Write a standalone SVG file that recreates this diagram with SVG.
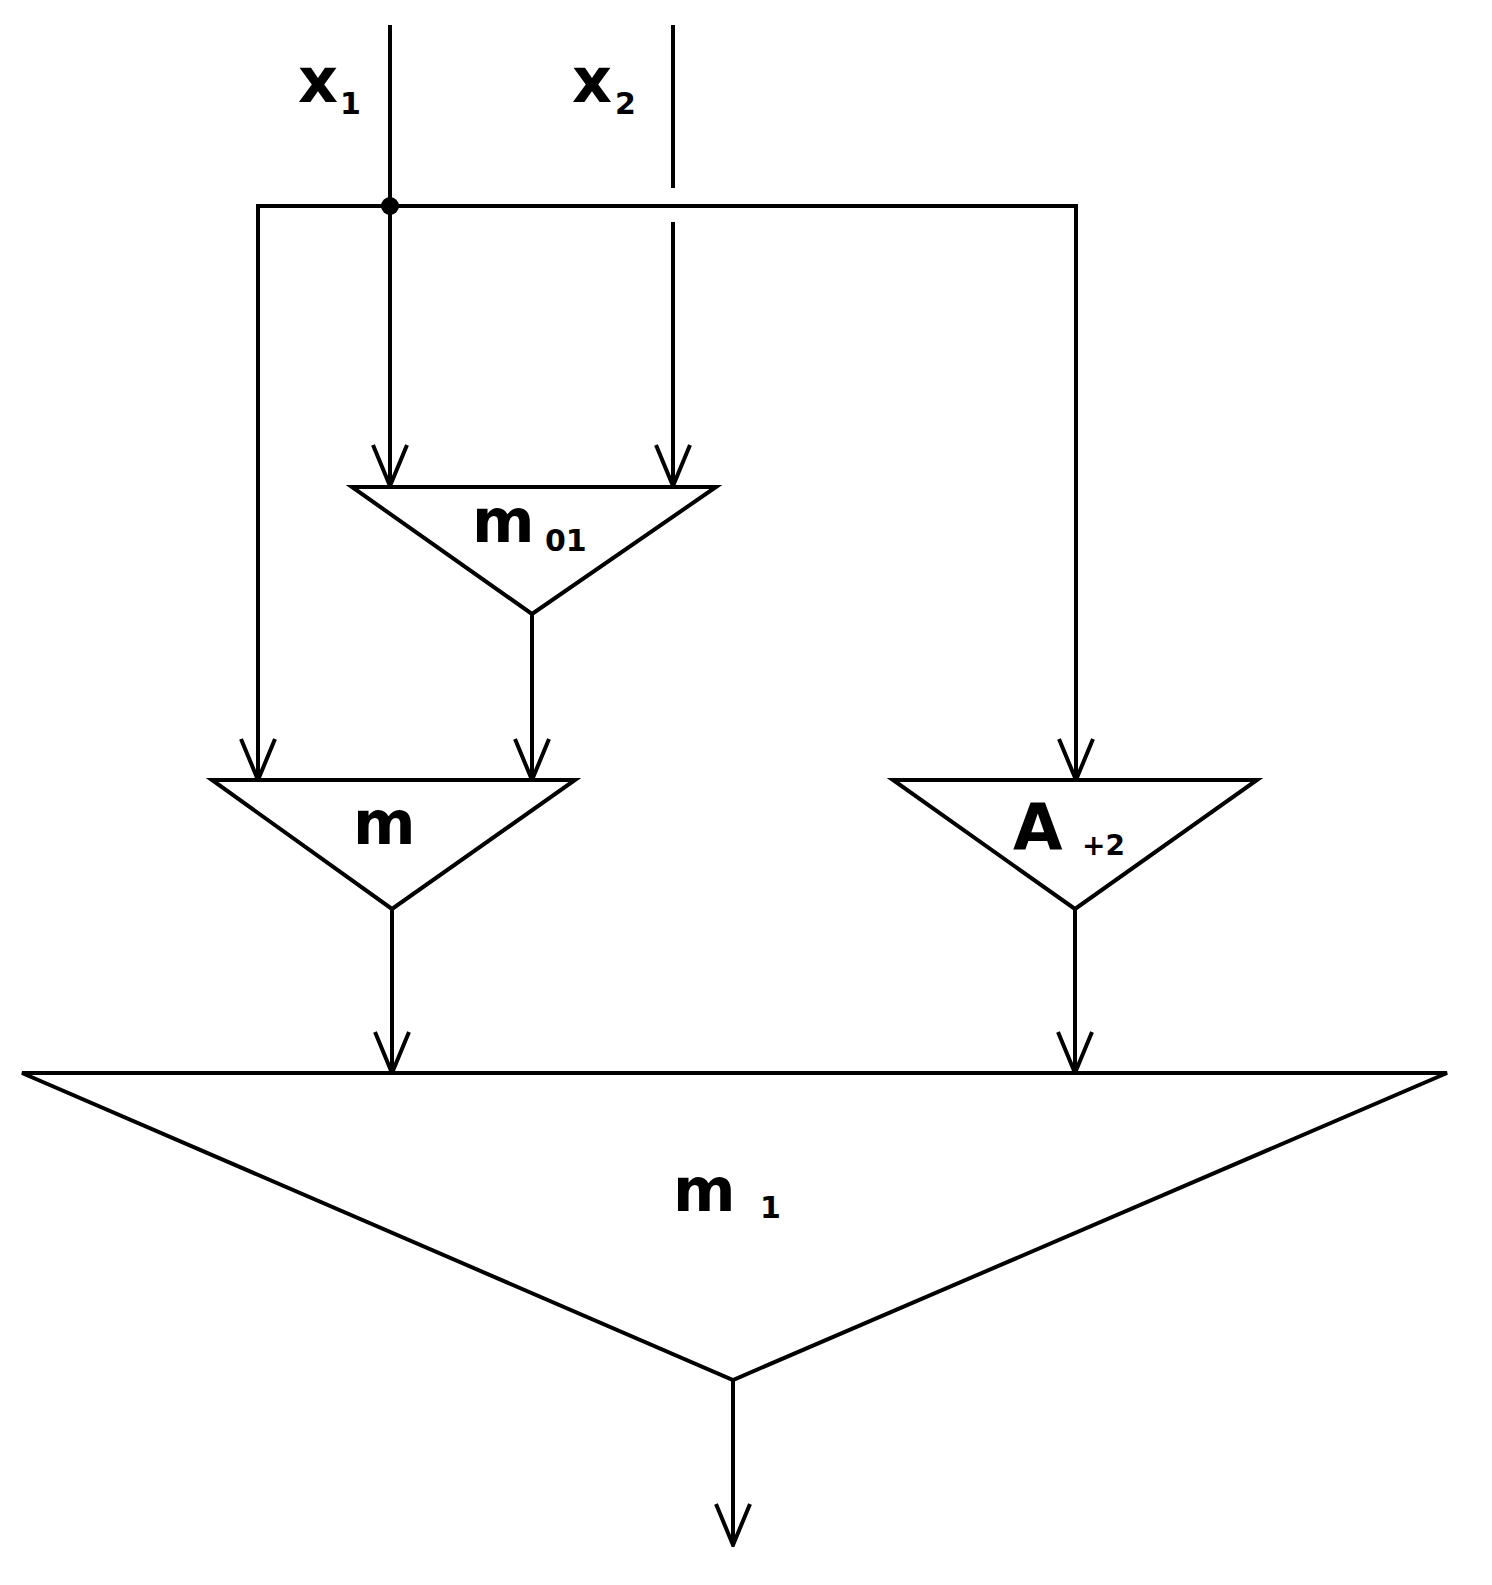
<svg xmlns="http://www.w3.org/2000/svg" width="1492" height="1585" viewBox="0 0 1492 1585">
<defs>
<marker id="arr" markerWidth="46" markerHeight="40" refX="44" refY="20" orient="auto-start-reverse" markerUnits="userSpaceOnUse" viewBox="0 0 46 40">
<path d="M3,3 L44,20 L3,37" fill="none" stroke="#000" stroke-width="4"/>
</marker>
<style>
.l{stroke:#000;stroke-width:4;fill:none}
.t{fill:#fff;stroke:#000;stroke-width:4;stroke-linejoin:miter}
.lb{font-family:"DejaVu Sans",sans-serif;font-weight:bold;fill:#000}
</style>
</defs>
<rect width="1492" height="1585" fill="#fff"/>
<g id="connectors">
<line class="l" x1="390" y1="25" x2="390" y2="486" marker-end="url(#arr)"/>
<line class="l" x1="673" y1="25" x2="673" y2="188"/>
<line class="l" x1="673" y1="222" x2="673" y2="486" marker-end="url(#arr)"/>
<polyline class="l" points="258,780 258,206 1076,206 1076,780" marker-start="url(#arr)" marker-end="url(#arr)"/>
<line class="l" x1="532" y1="614" x2="532" y2="780" marker-end="url(#arr)"/>
<line class="l" x1="392" y1="909" x2="392" y2="1073" marker-end="url(#arr)"/>
<line class="l" x1="1075" y1="909" x2="1075" y2="1073" marker-end="url(#arr)"/>
<line class="l" x1="733" y1="1380" x2="733" y2="1545" marker-end="url(#arr)"/>
<circle cx="390" cy="206" r="9" fill="#000"/>
</g>
<g id="x1"><text class="lb" x="298" y="102" font-size="62">x</text><text class="lb" x="340" y="114" font-size="30">1</text></g>
<g id="x2"><text class="lb" x="572" y="102" font-size="62">x</text><text class="lb" x="615" y="114" font-size="30">2</text></g>
<g id="m01"><polygon class="t" points="352,487 716,487 532,614"/><text class="lb" x="472" y="542" font-size="60">m</text><text class="lb" x="545" y="551" font-size="30">01</text></g>
<g id="m"><polygon class="t" points="212,780 575,780 392,909"/><text class="lb" x="353" y="844" font-size="60">m</text></g>
<g id="A2"><polygon class="t" points="893,780 1257,780 1075,909"/><text class="lb" x="1013" y="850" font-size="64">A</text><text class="lb" x="1082" y="855" font-size="28">+2</text></g>
<g id="m1"><polygon class="t" points="22,1073 1447,1073 733,1380"/><text class="lb" x="673" y="1211" font-size="60">m</text><text class="lb" x="760" y="1218" font-size="30">1</text></g>
</svg>
